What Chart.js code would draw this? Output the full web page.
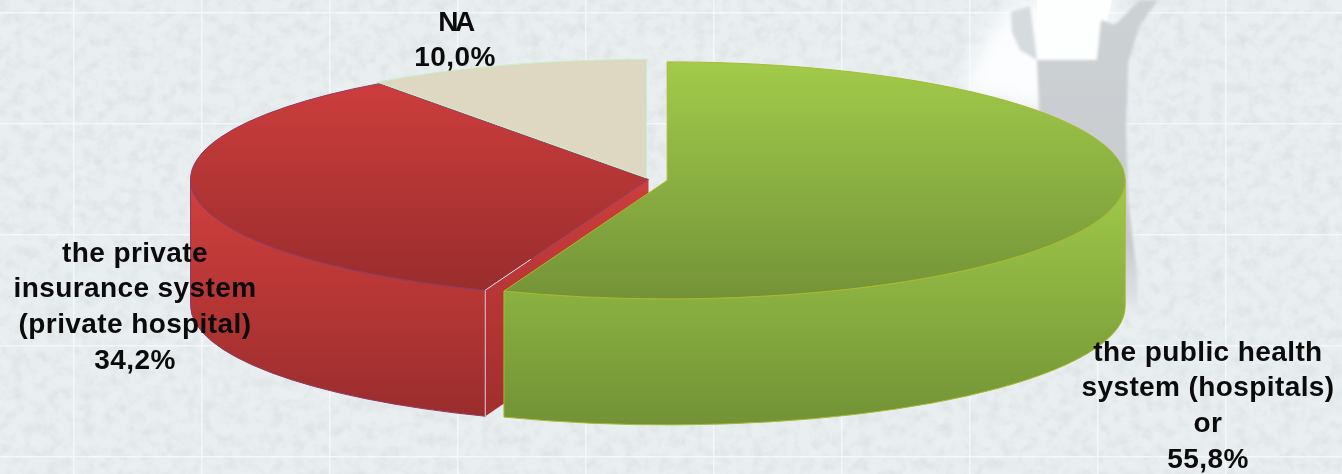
<!DOCTYPE html>
<html>
<head>
<meta charset="utf-8">
<script src="https://cdn.jsdelivr.net/npm/chart.js@4/dist/chart.umd.min.js"></script>
<style>
html,body{margin:0;padding:0;background:#e8eef0;overflow:hidden}
#stage{position:relative;width:1342px;height:474px;overflow:hidden}
#bg,#c{position:absolute;left:0;top:0}
</style>
</head>
<body>
<div id="stage">
<svg id="bg" width="1342" height="474" xmlns="http://www.w3.org/2000/svg">
  <defs>
    <filter id="mottle" x="0" y="0" width="100%" height="100%">
      <feTurbulence type="fractalNoise" baseFrequency="0.085" numOctaves="5" seed="11"/>
      <feColorMatrix type="matrix" values="0 0 0 0 0.62  0 0 0 0 0.65  0 0 0 0 0.67  1.4 0 0 0 -0.56"/>
    </filter>
    <filter id="soft"><feGaussianBlur stdDeviation="1.5"/></filter>
    <filter id="softer"><feGaussianBlur stdDeviation="9"/></filter>
    <filter id="lineblur"><feGaussianBlur stdDeviation="0.7"/></filter>
    <pattern id="tiles" width="128" height="111" patternUnits="userSpaceOnUse" x="-55" y="12">
      <path d="M0 0H128M0 0V111" stroke="#f5fafb" stroke-width="3" fill="none" opacity="0.85"/>
    </pattern>
    <linearGradient id="fig" x1="0" y1="0" x2="0" y2="1">
      <stop offset="0" stop-color="#cdd1d4"/>
      <stop offset="0.8" stop-color="#c6cbce"/>
      <stop offset="1" stop-color="#dfe5e7"/>
    </linearGradient>
  </defs>
  <rect width="1342" height="474" fill="#e9eff1"/>
  <rect width="1342" height="474" filter="url(#mottle)" opacity="0.6"/>
  <rect width="1342" height="474" fill="url(#tiles)" filter="url(#lineblur)"/>
  <path d="M960 95 L985 35 L1020 0 L1115 0 L1100 60 L1037 110 L1000 100Z" fill="#fbfdfe" filter="url(#softer)"/>
  <path d="M1037 0H1112L1098 60H1037Z" fill="#fdfefe"/>
  <path d="M1011 12L1030 6L1037 60L1020 50L1012 32Z" fill="#d6dbde" filter="url(#soft)"/>
  <path d="M1037 60H1097L1101 20L1115 25L1140 0H1158L1140 25L1128 62L1126 130L1128 200L1136 265L1138 305H1120L1040 130Z" fill="url(#fig)" filter="url(#soft)"/>
</svg>
<canvas id="c" width="1342" height="474"></canvas>
</div>
<script>
// ---- chart data ----
const categories = ['the public health system (hospitals) or', 'the private insurance system (private hospital)', 'NA'];
const shares = [55.8, 34.2, 10.0];
const shareLabels = ['55,8%', '34,2%', '10,0%'];
const labelLines = [
  ['the public health', 'system (hospitals)', 'or'],
  ['the private', 'insurance system', '(private hospital)'],
  ['NA']
];

// ---- styling and layout ----
const topStops  = [['#a1cb4a', '#749338'], ['#d13f3e', '#982c2c'], ['#ded8c3', '#ded8c3']];
const wallStops = [['#9dc848', '#729236'], ['#cf3f3d', '#982c2c'], ['#ded8c3', '#ded8c3']];
const edgeColors = ['#a9b82f', '#8c3a66', '#c9efc4'];
const explodePx = [19, 0, 6.5];
const RX = 458, RY = 118.5, DEPTH = 126;
const K = RY / RX;
const labelAnchors = [[1208, 353], [135, 254], [455, 23]];
const LINE_H = 35.6;

function localY(chart, screenY) {
  const cy = (chart.chartArea.top + chart.chartArea.bottom) / 2;
  return cy + (screenY - cy) / K;
}
function screenPos(chart, arc) {
  const cy = (chart.chartArea.top + chart.chartArea.bottom) / 2;
  return {x: arc.x, y: cy + (arc.y - cy) * K};
}
function rimPoint(c, angle) {
  return {x: c.x + RX * Math.cos(angle), y: c.y + RY * Math.sin(angle)};
}
function grad(ctx, y0, y1, stops) {
  const g = ctx.createLinearGradient(0, y0, 0, y1);
  g.addColorStop(0, stops[0]);
  g.addColorStop(1, stops[1]);
  return g;
}

const pie3d = {
  id: 'pie3d',
  afterDatasetUpdate(chart, args) {
    const arcs = chart.getDatasetMeta(args.index).data;
    arcs.forEach((arc, i) => {
      const mid = (arc.startAngle + arc.endAngle) / 2;
      arc.x += Math.cos(mid) * explodePx[i];
      arc.y += Math.sin(mid) * explodePx[i];
    });
  },
  beforeDatasetDraw(chart, args) {
    const ctx = chart.ctx;
    const arcs = args.meta.data;
    const cy = (chart.chartArea.top + chart.chartArea.bottom) / 2;

    // cut face of the red slice, seen in the gap between the slices
    const red = arcs[1], rc = screenPos(chart, red);
    const rim = rimPoint(rc, red.startAngle);
    ctx.save();
    ctx.beginPath();
    ctx.moveTo(rc.x, rc.y);
    ctx.lineTo(rim.x, rim.y);
    ctx.lineTo(rim.x, rim.y + DEPTH);
    ctx.lineTo(rc.x, rc.y + DEPTH);
    ctx.closePath();
    ctx.fillStyle = grad(ctx, 180, 417, ['#cb3e3c', '#a22e2e']);
    ctx.fill();
    ctx.restore();

    // outer walls: red first, green over it
    [1, 0].forEach(i => {
      const arc = arcs[i], c = screenPos(chart, arc);
      const a0 = Math.max(arc.startAngle, 0), a1 = Math.min(arc.endAngle, Math.PI);
      if (a1 <= a0) return;
      ctx.save();
      ctx.beginPath();
      ctx.ellipse(c.x, c.y, RX, RY, 0, a0, a1, false);
      ctx.ellipse(c.x, c.y + DEPTH, RX, RY, 0, a1, a0, true);
      ctx.closePath();
      ctx.fillStyle = grad(ctx, 190, c.y + RY + DEPTH, wallStops[i]);
      ctx.fill();
      ctx.strokeStyle = edgeColors[i];
      ctx.lineWidth = 1;
      ctx.stroke();
      ctx.restore();
    });

    // pale vertical edge where the red wall meets its cut face
    ctx.save();
    ctx.strokeStyle = '#e9c6c6';
    ctx.lineWidth = 1;
    ctx.beginPath();
    ctx.moveTo(rim.x, rim.y);
    ctx.lineTo(rim.x, rim.y + DEPTH);
    ctx.stroke();
    ctx.restore();

    // squash the library's round slices into the tilted ellipse
    ctx.save();
    ctx.translate(0, cy);
    ctx.scale(1, K);
    ctx.translate(0, -cy);
  },
  afterDatasetDraw(chart, args) {
    const ctx = chart.ctx;
    ctx.restore();
    args.meta.data.forEach((arc, i) => {
      const c = screenPos(chart, arc);
      const s = rimPoint(c, arc.startAngle);
      ctx.save();
      ctx.strokeStyle = edgeColors[i];
      ctx.lineWidth = 1;
      ctx.beginPath();
      ctx.moveTo(c.x, c.y);
      ctx.lineTo(s.x, s.y);
      ctx.ellipse(c.x, c.y, RX, RY, 0, arc.startAngle, arc.endAngle, false);
      ctx.closePath();
      ctx.stroke();
      ctx.restore();
    });
    // white highlight along the front of the red cut edge
    const red = args.meta.data[1], rc = screenPos(chart, red), rim = rimPoint(rc, red.startAngle);
    ctx.save();
    ctx.strokeStyle = '#f3dede';
    ctx.lineWidth = 1;
    ctx.beginPath();
    ctx.moveTo(rim.x, rim.y);
    ctx.lineTo(rim.x + (rc.x - rim.x) * 0.28, rim.y + (rc.y - rim.y) * 0.28);
    ctx.stroke();
    ctx.restore();
  },
  afterDraw(chart) {
    const ctx = chart.ctx;
    ctx.save();
    ctx.fillStyle = '#0b0b0b';
    ctx.textAlign = 'center';
    ctx.textBaseline = 'middle';
    ctx.font = 'bold 28px "Liberation Sans", Arial, sans-serif';
    labelLines.forEach((lines, i) => {
      const [x, y] = labelAnchors[i];
      const all = lines.concat(shareLabels[i]);
      all.forEach((line, j) => {
        ctx.letterSpacing = line === 'NA' ? '-3.5px' : '0.4px';
        ctx.fillText(line, x, y + j * LINE_H);
      });
    });
    ctx.restore();
  }
};

new Chart(document.getElementById('c'), {
  type: 'pie',
  data: {
    labels: categories,
    datasets: [{
      data: shares,
      radius: RX,
      clip: false,
      borderWidth: 0,
      backgroundColor(ctx) {
        const chart = ctx.chart;
        if (!chart.chartArea) return topStops[ctx.dataIndex][0];
        return grad(chart.ctx, localY(chart, 62), localY(chart, 298), topStops[ctx.dataIndex]);
      }
    }]
  },
  options: {
    responsive: false,
    animation: false,
    events: [],
    layout: {padding: {left: 0, top: 0, right: 45, bottom: 115}},
    plugins: {legend: {display: false}, tooltip: {enabled: false}}
  },
  plugins: [pie3d]
});
</script>
</body>
</html>
